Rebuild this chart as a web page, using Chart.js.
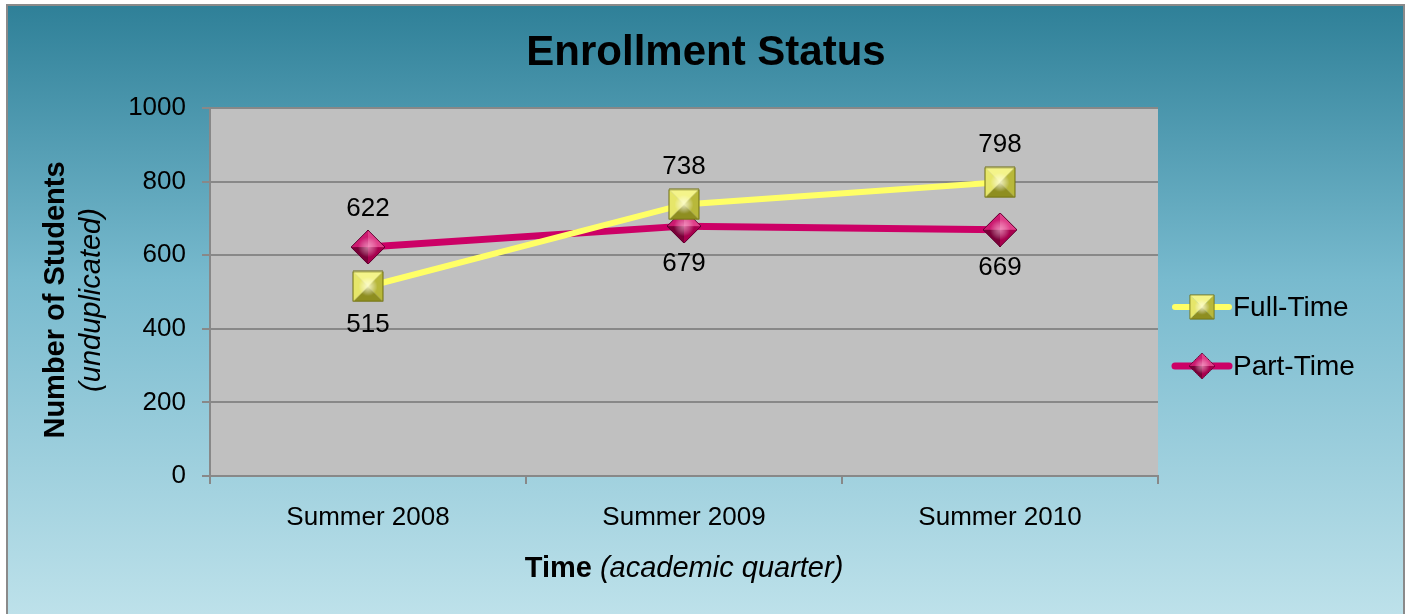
<!DOCTYPE html>
<html>
<head>
<meta charset="utf-8">
<script src="https://cdn.jsdelivr.net/npm/chart.js@4.4.0/dist/chart.umd.min.js"></script>
<style>
  html, body { margin: 0; padding: 0; background: #fff; }
  #wrap { width: 1411px; height: 614px; }
</style>
</head>
<body>
<div id="wrap"><canvas id="enrollChart" width="1411" height="614"></canvas></div>
<script>
const categories = ['Summer 2008', 'Summer 2009', 'Summer 2010'];
const fullTime = [515, 738, 798];
const partTime = [622, 679, 669];
const yTicks = [0, 200, 400, 600, 800, 1000];

const FONT = '"Liberation Sans", Arial, sans-serif';

// bevelled marker images, like the old office chart
function makeMarker(kind, size, c) {
  const cv = document.createElement('canvas');
  cv.width = size; cv.height = size;
  const g = cv.getContext('2d');
  const m = size / 2;
  let pts;
  if (kind === 'square') pts = [[1, 1], [size - 1, 1], [size - 1, size - 1], [1, size - 1]];
  else pts = [[m, 0], [size, m], [m, size], [0, m]];
  const shades = [c.top, c.right, c.bottom, c.left];
  for (let i = 0; i < 4; i++) {
    const a = pts[i], b = pts[(i + 1) % 4];
    g.beginPath();
    g.moveTo(a[0], a[1]); g.lineTo(b[0], b[1]); g.lineTo(m, m);
    g.closePath();
    g.fillStyle = shades[i];
    g.fill();
  }
  const rg = g.createRadialGradient(m, m, 0, m, m, size * 0.3);
  rg.addColorStop(0, c.glow);
  rg.addColorStop(1, 'rgba(255,255,255,0)');
  g.fillStyle = rg;
  g.beginPath();
  g.moveTo(pts[0][0], pts[0][1]);
  for (let i = 1; i < 4; i++) g.lineTo(pts[i][0], pts[i][1]);
  g.closePath();
  g.fill();
  g.strokeStyle = c.edge;
  g.lineWidth = 1;
  g.stroke();
  return cv;
}

const squareImg = makeMarker('square', 32, {
  top: '#f4f48a', right: '#b8b83a', bottom: '#8e8e20', left: '#e6e66a',
  glow: 'rgba(255,255,220,0.8)', edge: '#6e6e10'
});
const diamondImg = makeMarker('diamond', 34, {
  top: '#e0408a', right: '#a8004e', bottom: '#7a0038', left: '#cc1a70',
  glow: 'rgba(255,190,220,0.6)', edge: '#600030'
});

const backgroundPlugin = {
  id: 'frameBg',
  beforeDraw(chart) {
    const { ctx, width, height, chartArea } = chart;
    ctx.save();
    ctx.fillStyle = '#ffffff';
    ctx.fillRect(0, 0, width, height);
    const gr = ctx.createLinearGradient(0, 6, 0, height);
    gr.addColorStop(0, '#2f8098');
    gr.addColorStop(0.45, '#78bace');
    gr.addColorStop(1, '#bde1ea');
    ctx.fillStyle = gr;
    ctx.fillRect(7, 6, width - 14, height - 6);
    ctx.strokeStyle = '#8a8a8a';
    ctx.lineWidth = 2;
    ctx.strokeRect(7, 5, width - 14, height + 4);
    ctx.fillStyle = '#c0c0c0';
    ctx.fillRect(chartArea.left, chartArea.top, chartArea.right - chartArea.left, chartArea.bottom - chartArea.top);
    ctx.restore();
  }
};

const textPlugin = {
  id: 'extraText',
  afterDraw(chart) {
    const { ctx, chartArea } = chart;
    ctx.save();
    ctx.fillStyle = '#000';
    ctx.textBaseline = 'middle';

    // title
    ctx.textAlign = 'center';
    ctx.font = 'bold 42px ' + FONT;
    ctx.fillText('Enrollment Status', 706, 53);

    // y axis title
    ctx.save();
    ctx.translate(56, 300);
    ctx.rotate(-Math.PI / 2);
    ctx.font = 'bold 29px ' + FONT;
    ctx.fillText('Number of Students', 0, 0);
    ctx.font = 'italic 29px ' + FONT;
    ctx.fillText('(unduplicated)', 0, 36);
    ctx.restore();

    // x axis title
    const cx = (chartArea.left + chartArea.right) / 2;
    ctx.font = 'bold 29px ' + FONT;
    const w1 = ctx.measureText('Time').width;
    ctx.font = 'italic 29px ' + FONT;
    const w2 = ctx.measureText(' (academic quarter)').width;
    let x0 = cx - (w1 + w2) / 2;
    ctx.textAlign = 'left';
    ctx.font = 'bold 29px ' + FONT;
    ctx.fillText('Time', x0, 569);
    ctx.font = 'italic 29px ' + FONT;
    ctx.fillText(' (academic quarter)', x0 + w1, 569);

    // data labels
    ctx.textAlign = 'center';
    ctx.font = '26px ' + FONT;
    chart.data.datasets.forEach((ds, i) => {
      const meta = chart.getDatasetMeta(i);
      meta.data.forEach((pt, j) => {
        const dy = ds.labelSide[j] === 'above' ? -38 : 38;
        ctx.fillText(String(ds.data[j]), pt.x, pt.y + dy);
      });
    });

    // legend
    const items = [
      { label: 'Full-Time', color: '#ffff66', width: 6, img: squareImg, y: 307 },
      { label: 'Part-Time', color: '#cc0066', width: 7, img: diamondImg, y: 366 }
    ];
    items.forEach(it => {
      ctx.strokeStyle = it.color;
      ctx.lineWidth = it.width;
      ctx.lineCap = 'round';
      ctx.beginPath();
      ctx.moveTo(1175, it.y);
      ctx.lineTo(1229, it.y);
      ctx.stroke();
      const s = 26;
      ctx.drawImage(it.img, 1202 - s / 2, it.y - s / 2, s, s);
      ctx.textAlign = 'left';
      ctx.font = '28px ' + FONT;
      ctx.fillStyle = '#000';
      ctx.fillText(it.label, 1233, it.y + 1);
    });
    ctx.restore();
  }
};

const ctx = document.getElementById('enrollChart').getContext('2d');
new Chart(ctx, {
  type: 'line',
  data: {
    labels: categories,
    datasets: [
      {
        label: 'Full-Time',
        data: fullTime,
        borderColor: '#ffff66',
        backgroundColor: '#ffff66',
        borderWidth: 6,
        pointStyle: squareImg,
        labelSide: ['below', 'above', 'above']
      },
      {
        label: 'Part-Time',
        data: partTime,
        borderColor: '#cc0066',
        backgroundColor: '#cc0066',
        borderWidth: 7,
        pointStyle: diamondImg,
        labelSide: ['above', 'below', 'below']
      }
    ]
  },
  options: {
    responsive: false,
    animation: false,
    events: [],
    layout: { padding: { left: 0, right: 253, top: 108, bottom: 0 } },
    plugins: {
      legend: { display: false },
      title: { display: false },
      tooltip: { enabled: false }
    },
    scales: {
      x: {
        offset: true,
        grid: {
          offset: true,
          drawOnChartArea: false,
          color: '#888888',
          lineWidth: 2,
          tickLength: 8
        },
        border: { color: '#888888', width: 2 },
        ticks: { color: '#000', font: { family: FONT, size: 26 }, padding: 18 },
        afterFit(scale) { scale.height = 138; }
      },
      y: {
        min: 0,
        max: 1000,
        afterBuildTicks(scale) { scale.ticks = yTicks.map(v => ({ value: v })); },
        grid: { color: '#888888', lineWidth: 2, tickLength: 8 },
        border: { color: '#888888', width: 2 },
        ticks: {
          color: '#000',
          font: { family: FONT, size: 26 },
          padding: 16,
          callback: v => String(v)
        },
        afterFit(scale) { scale.width = 210; }
      }
    }
  },
  plugins: [backgroundPlugin, textPlugin]
});
</script>
</body>
</html>
